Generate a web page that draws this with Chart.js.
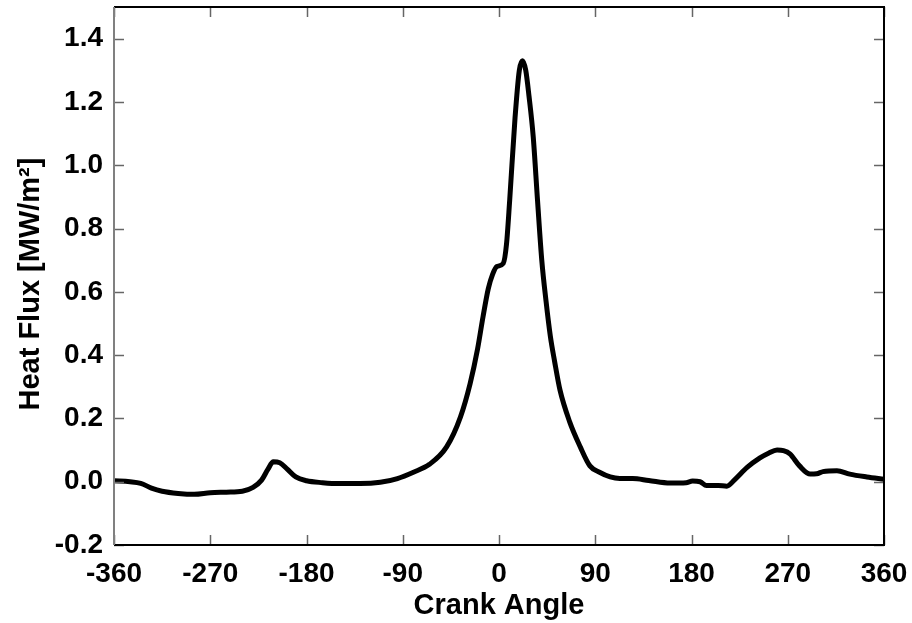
<!DOCTYPE html>
<html>
<head>
<meta charset="utf-8">
<script src="https://cdn.jsdelivr.net/npm/chart.js@4/dist/chart.umd.min.js"></script>
<style>
html,body{margin:0;padding:0;background:#fff;}
#wrap{width:912px;height:623px;position:relative;}
</style>
</head>
<body>
<div id="wrap"><canvas id="c" width="912" height="623"></canvas></div>
<script>
const crankAngles = [-360,-345,-335,-325,-315,-300,-285,-270,-255,-240,-230,-222,-216,-211,-205,-198,-190,-180,-165,-150,-130,-111,-95,-80,-65,-49,-36,-27,-20,-15,-10,-6,-2,4,7,10,15,19,22,25,28,32,36,40,44,48,52,57,66,76,85,94,104,113,125,140,160,175,181,188,194,205,213,220,232,244,252,260,266,272,281,291,297,303,316,328,344,360];
const heatFlux = [0.003,0.0,-0.005,-0.02,-0.03,-0.037,-0.04,-0.035,-0.033,-0.03,-0.018,0.005,0.04,0.063,0.06,0.04,0.015,0.003,-0.003,-0.006,-0.006,-0.002,0.01,0.03,0.055,0.11,0.205,0.31,0.42,0.52,0.61,0.655,0.68,0.69,0.75,0.89,1.15,1.30,1.33,1.30,1.22,1.09,0.89,0.70,0.57,0.46,0.38,0.29,0.19,0.11,0.05,0.03,0.015,0.01,0.01,0.004,-0.004,-0.003,0.002,0.0,-0.012,-0.012,-0.014,0.005,0.045,0.075,0.09,0.1,0.098,0.088,0.05,0.024,0.025,0.032,0.035,0.024,0.015,0.008];
const xTicks = [-360,-270,-180,-90,0,90,180,270,360];
const yTicks = [-0.2,0.0,0.2,0.4,0.6,0.8,1.0,1.2,1.4];
const xTitle = 'Crank Angle';
const yTitle = 'Heat Flux [MW/m\u00B2]  ';

const points = crankAngles.map((a,i)=>({x:a,y:heatFlux[i]}));
const FONT = 'Liberation Sans, Arial, sans-serif';

const framePlugin = {
  id:'frame',
  afterDatasetsDraw(chart){
    const {ctx, chartArea:a, scales} = chart;
    const tl = 10;
    ctx.save();
    ctx.lineWidth = 1.5;
    ctx.strokeStyle = '#666';
    scales.x.ticks.forEach(t=>{
      const px = Math.round(scales.x.getPixelForValue(t.value))+0.5;
      ctx.beginPath(); ctx.moveTo(px,a.bottom); ctx.lineTo(px,a.bottom-tl); ctx.stroke();
      ctx.beginPath(); ctx.moveTo(px,a.top); ctx.lineTo(px,a.top+tl); ctx.stroke();
    });
    scales.y.ticks.forEach(t=>{
      const py = Math.round(scales.y.getPixelForValue(t.value))+0.5;
      ctx.beginPath(); ctx.moveTo(a.left,py); ctx.lineTo(a.left+tl,py); ctx.stroke();
      ctx.beginPath(); ctx.moveTo(a.right,py); ctx.lineTo(a.right-tl,py); ctx.stroke();
    });
    ctx.lineWidth = 2;
    ctx.strokeStyle = '#000';
    ctx.beginPath(); ctx.moveTo(a.left,a.top); ctx.lineTo(a.right,a.top); ctx.lineTo(a.right,a.bottom); ctx.lineTo(a.left,a.bottom); ctx.stroke();
    ctx.strokeStyle = '#808080';
    ctx.beginPath(); ctx.moveTo(a.left,a.top); ctx.lineTo(a.left,a.bottom); ctx.stroke();
    ctx.restore();
  }
};

function noPad(s){ s.paddingTop=0; s.paddingBottom=0; s.paddingLeft=0; s.paddingRight=0; }

new Chart(document.getElementById('c'), {
  type:'scatter',
  data:{datasets:[{
    data:points,
    showLine:true,
    borderColor:'#000',
    borderWidth:5,
    pointRadius:0,
    cubicInterpolationMode:'monotone',
    fill:false
  }]},
  options:{
    responsive:false,
    animation:false,
    clip:false,
    layout:{padding:{top:7,right:28,left:0,bottom:0}},
    plugins:{legend:{display:false},tooltip:{enabled:false}},
    scales:{
      x:{
        type:'linear', min:-360, max:360,
        afterBuildTicks(s){ s.ticks = xTicks.map(v=>({value:v})); },
        afterFit(s){ s.height = 78; noPad(s); },
        grid:{display:false, drawTicks:false},
        border:{display:false},
        ticks:{color:'#000', padding:12, maxRotation:0, autoSkip:false,
          font:{family:FONT, size:28, weight:'bold'},
          callback:v=>String(v)},
        title:{display:true, text:xTitle, color:'#000', padding:{top:0,bottom:0},
          font:{family:FONT, size:29, weight:'bold'}}
      },
      y:{
        type:'linear', min:-0.2, max:1.5,
        afterBuildTicks(s){ s.ticks = yTicks.map(v=>({value:v})); },
        afterFit(s){ s.width = 114; noPad(s); },
        grid:{display:false, drawTicks:false},
        border:{display:false},
        ticks:{color:'#000', padding:11, autoSkip:false,
          font:{family:FONT, size:28, weight:'bold'},
          callback:v=>Number(v).toFixed(1)},
        title:{display:true, text:yTitle, color:'#000', padding:{top:14,bottom:0},
          font:{family:FONT, size:29, weight:'bold'}}
      }
    }
  },
  plugins:[framePlugin]
});
</script>
</body>
</html>
